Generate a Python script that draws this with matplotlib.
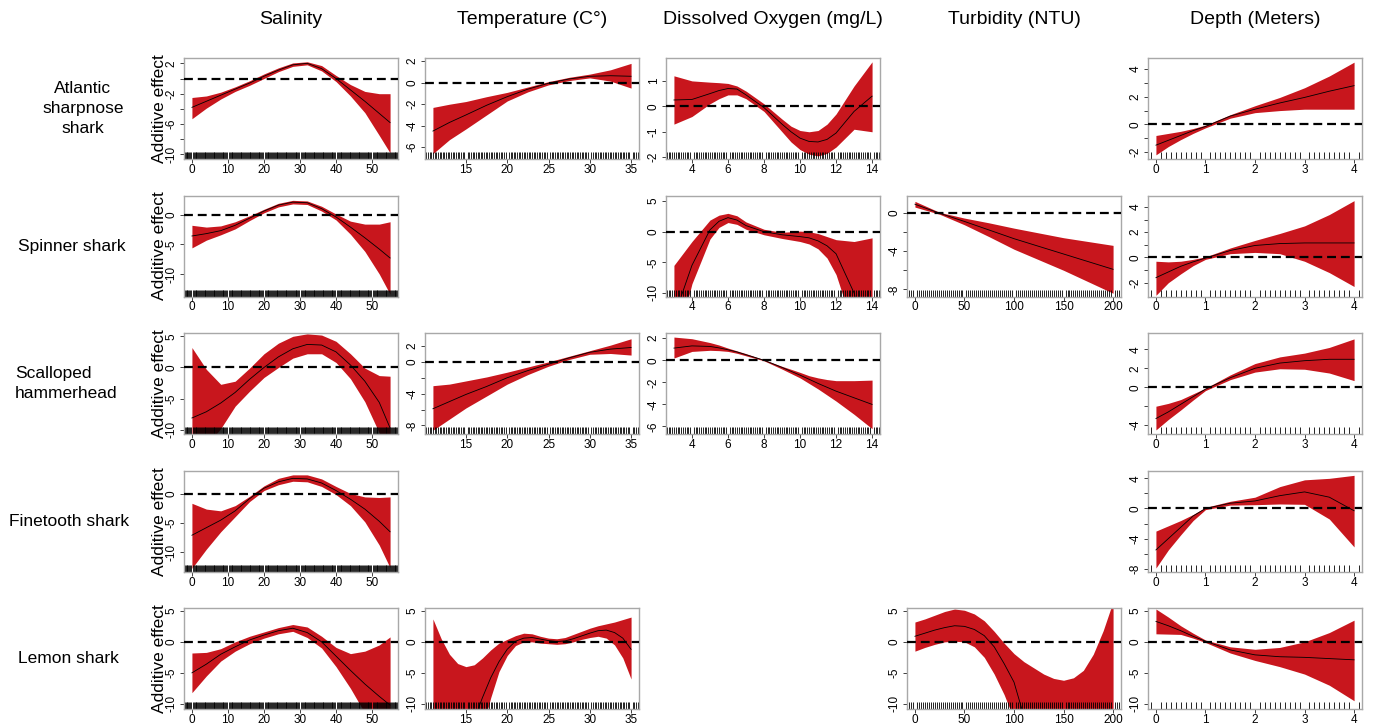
import matplotlib
matplotlib.use("Agg")
import matplotlib.pyplot as plt
from matplotlib.ticker import MultipleLocator

plt.rcParams['font.family'] = ['Liberation Sans', 'DejaVu Sans']

# ---------------- data ----------------
col_titles = ['Salinity', 'Temperature (C°)', 'Dissolved Oxygen (mg/L)',
              'Turbidity (NTU)', 'Depth (Meters)']
row_titles = ['Atlantic\nsharpnose\nshark', 'Spinner shark', 'Scalloped\nhammerhead',
              'Finetooth shark', 'Lemon shark']

# salinity
sal_x = [0, 4, 8, 12, 16, 20, 24, 28, 32, 36, 40, 44, 48, 52, 55]
atl_sal_fit = [-3.8, -3.0, -2.2, -1.4, -0.6, 0.3, 1.1, 1.8, 2.0, 1.3, 0.0, -1.5, -3.0, -4.6, -5.8]
atl_sal_up = [-2.5, -2.3, -1.8, -1.1, -0.3, 0.6, 1.4, 2.05, 2.2, 1.7, 0.4, -0.8, -1.7, -2.0, -2.0]
atl_sal_lo = [-5.3, -3.9, -2.7, -1.7, -0.9, 0.0, 0.9, 1.6, 1.8, 1.0, -0.4, -2.3, -4.5, -7.5, -9.8]

spn_sal_fit = [-3.6, -3.2, -2.7, -1.8, -0.6, 0.6, 1.6, 2.1, 2.0, 1.0, -0.4, -2.1, -3.9, -5.8, -7.3]
spn_sal_up = [-1.8, -2.1, -1.9, -1.2, -0.2, 0.9, 1.9, 2.4, 2.3, 1.4, 0.1, -1.1, -1.6, -1.6, -1.2]
spn_sal_lo = [-5.6, -4.3, -3.4, -2.4, -1.0, 0.3, 1.3, 1.8, 1.7, 0.6, -0.9, -3.3, -6.2, -10.0, -13.4]

sca_sal_fit = [-8.1, -7.1, -5.7, -4.0, -1.9, 0.0, 1.7, 3.0, 3.7, 3.6, 2.5, 0.4, -2.2, -5.6, -9.7]
sca_sal_up = [3.2, -0.3, -2.7, -2.2, -0.1, 2.2, 3.9, 5.0, 5.4, 5.2, 4.2, 2.2, -0.1, -1.3, -1.4]
sca_sal_lo = [-14.0, -12.5, -9.8, -6.2, -3.8, -1.6, 0.0, 1.5, 2.2, 2.2, 0.8, -1.8, -5.5, -10.5, -17.0]

fin_sal_fit = [-7.1, -5.8, -4.5, -2.9, -0.8, 1.0, 2.1, 2.7, 2.6, 1.9, 0.6, -0.9, -2.6, -4.7, -6.5]
fin_sal_up = [-1.6, -2.6, -2.9, -2.0, -0.4, 1.4, 2.7, 3.3, 3.3, 2.6, 1.3, 0.1, -0.5, -0.6, -0.5]
fin_sal_lo = [-12.8, -9.5, -6.5, -3.9, -1.3, 0.6, 1.6, 2.2, 2.1, 1.3, -0.1, -2.0, -4.8, -8.8, -12.7]

lem_sal_fit = [-5.0, -3.6, -2.0, -0.8, 0.3, 1.1, 1.8, 2.2, 1.5, 0.0, -2.3, -4.6, -6.8, -8.8, -10.2]
lem_sal_up = [-1.8, -1.7, -1.1, 0.0, 0.9, 1.6, 2.3, 2.8, 2.4, 0.9, -0.9, -1.9, -1.5, -0.5, 0.8]
lem_sal_lo = [-8.2, -5.5, -3.1, -1.5, -0.3, 0.6, 1.3, 1.7, 0.7, -1.0, -4.0, -7.5, -11.5, -15.0, -18.0]

# temperature
tmp_x = [11, 13, 15, 17.5, 20, 22.5, 25, 27.5, 30, 32.5, 35]
atl_tmp_fit = [-4.5, -3.7, -3.0, -2.1, -1.3, -0.6, -0.05, 0.35, 0.6, 0.65, 0.6]
atl_tmp_up = [-2.3, -2.0, -1.75, -1.3, -0.9, -0.4, 0.1, 0.5, 0.8, 1.2, 1.8]
atl_tmp_lo = [-6.6, -5.3, -4.3, -3.0, -1.7, -0.85, -0.2, 0.2, 0.45, 0.15, -0.5]

sca_tmp_fit = [-5.9, -5.0, -4.1, -3.1, -2.0, -1.1, -0.3, 0.5, 1.2, 1.6, 1.8]
sca_tmp_up = [-3.0, -2.8, -2.4, -1.9, -1.3, -0.65, 0.0, 0.7, 1.4, 2.1, 2.9]
sca_tmp_lo = [-8.6, -7.2, -5.8, -4.3, -2.8, -1.6, -0.55, 0.3, 0.95, 1.05, 0.85]

lem_tmp_x = [11, 12, 13, 14, 15, 16, 17, 18, 19, 20, 21, 22, 23, 24, 25, 26, 27, 28, 29, 30,
             31, 32, 33, 34, 35]
lem_tmp_fit = [-30, -26, -22, -18.5, -15.5, -12.5, -9.0, -5.8, -3.2, -1.2, 0.1, 0.6, 0.7, 0.45,
               0.2, 0.05, 0.15, 0.5, 0.95, 1.4, 1.8, 1.9, 1.5, 0.6, -1.2]
lem_tmp_up = [3.7, 0.5, -2.0, -3.5, -4.0, -3.7, -2.6, -1.3, -0.2, 0.4, 1.0, 1.4, 1.3, 0.9,
              0.6, 0.5, 0.7, 1.2, 1.7, 2.2, 2.6, 2.9, 3.2, 3.6, 4.0]
lem_tmp_lo = [-45, -40, -35, -30, -25, -19, -14, -9.0, -4.8, -2.2, -0.6, 0.0, 0.0, -0.2,
              -0.3, -0.4, -0.3, 0.0, 0.4, 0.7, 0.9, 0.6, -0.5, -2.6, -6.0]

# dissolved oxygen
do_x = [3, 4, 5, 5.5, 6, 6.5, 7, 8, 9, 9.5, 10, 10.5, 11, 11.5, 12, 13, 14]
atl_do_fit = [0.25, 0.27, 0.5, 0.62, 0.7, 0.68, 0.45, -0.05, -0.7, -1.0, -1.25, -1.38, -1.4,
              -1.3, -1.05, -0.2, 0.4]
atl_do_up = [1.2, 1.0, 0.95, 0.93, 0.9, 0.8, 0.6, 0.1, -0.5, -0.78, -0.95, -1.0, -0.95,
             -0.7, -0.3, 0.8, 1.75]
atl_do_lo = [-0.7, -0.4, 0.1, 0.3, 0.45, 0.45, 0.3, -0.2, -1.0, -1.4, -1.7, -1.88, -1.95,
             -1.85, -1.6, -0.9, -1.0]

spn_do_fit = [-14, -5.5, 0.3, 1.7, 2.3, 1.9, 1.0, 0.0, -0.5, -0.65, -0.8, -1.0, -1.5, -2.3,
              -3.6, -10.0, -22]
spn_do_up = [-5.5, -1.6, 1.9, 2.7, 3.0, 2.6, 1.6, 0.4, -0.1, 0.0, 0.1, 0.0, -0.3, -0.8,
             -1.3, -1.6, -1.0]
spn_do_lo = [-20, -8.5, -1.2, 0.7, 1.5, 1.2, 0.4, -0.5, -1.1, -1.35, -1.6, -2.0, -2.8, -4.3,
             -7.0, -16, -25]

sca_do_fit = [1.1, 1.3, 1.25, 1.12, 0.95, 0.75, 0.5, 0.0, -0.65, -1.0, -1.35, -1.72, -2.1,
              -2.45, -2.8, -3.4, -4.0]
sca_do_up = [2.1, 1.95, 1.6, 1.38, 1.1, 0.85, 0.6, 0.05, -0.55, -0.82, -1.1, -1.4, -1.6,
             -1.75, -1.85, -1.85, -1.8]
sca_do_lo = [0.2, 0.8, 0.9, 0.87, 0.8, 0.63, 0.4, -0.05, -0.8, -1.2, -1.6, -2.1, -2.6,
             -3.15, -3.7, -4.9, -6.2]

# turbidity
tur_x = [0, 25, 50, 75, 100, 125, 150, 175, 200]
spn_tur_fit = [0.9, -0.05, -0.9, -1.8, -2.7, -3.5, -4.3, -5.1, -5.9]
spn_tur_up = [1.2, 0.05, -0.55, -1.05, -1.6, -2.1, -2.6, -3.0, -3.4]
spn_tur_lo = [0.6, -0.15, -1.25, -2.5, -3.8, -4.9, -6.0, -7.2, -8.4]

lem_tur_x = [0, 10, 20, 30, 40, 50, 60, 70, 80, 90, 100, 110, 120, 130, 140, 150, 160, 170,
             180, 190, 200]
lem_tur_fit = [0.9, 1.4, 1.9, 2.3, 2.6, 2.5, 2.0, 1.0, -0.8, -3.5, -6.5, -12, -16, -20, -23,
               -25, -26, -26, -25, -23, -20]
lem_tur_up = [3.2, 3.7, 4.3, 4.9, 5.3, 5.1, 4.5, 3.4, 1.7, -0.2, -1.9, -3.2, -4.2, -5.2, -5.9,
              -6.2, -5.8, -4.6, -2.0, 1.8, 6.5]
lem_tur_lo = [-1.5, -0.9, -0.4, 0.0, 0.1, 0.0, -0.8, -2.5, -5.2, -8.5, -12.5, -18, -24, -30,
              -35, -40, -45, -50, -55, -60, -65]

# depth
dep_x = [0, 0.25, 0.5, 0.75, 1, 1.5, 2, 2.5, 3, 3.5, 4]
atl_dep_fit = [-1.5, -1.15, -0.8, -0.45, -0.15, 0.6, 1.1, 1.55, 1.95, 2.4, 2.8]
atl_dep_up = [-0.8, -0.65, -0.5, -0.3, -0.05, 0.7, 1.35, 1.95, 2.65, 3.5, 4.5]
atl_dep_lo = [-2.2, -1.6, -1.1, -0.65, -0.25, 0.45, 0.85, 1.0, 1.1, 1.1, 1.1]

spn_dep_fit = [-1.6, -1.15, -0.7, -0.35, -0.05, 0.55, 0.95, 1.1, 1.15, 1.15, 1.15]
spn_dep_up = [-0.3, -0.35, -0.3, -0.15, 0.05, 0.75, 1.35, 1.9, 2.5, 3.4, 4.5]
spn_dep_lo = [-3.0, -2.0, -1.3, -0.65, -0.15, 0.3, 0.4, 0.3, -0.3, -1.2, -2.3]

sca_dep_fit = [-3.3, -2.6, -1.8, -1.0, -0.2, 1.0, 2.0, 2.55, 2.8, 2.95, 2.95]
sca_dep_up = [-2.0, -1.7, -1.3, -0.7, -0.1, 1.3, 2.5, 3.2, 3.6, 4.2, 5.1]
sca_dep_lo = [-4.5, -3.4, -2.4, -1.35, -0.35, 0.8, 1.6, 1.95, 1.9, 1.5, 0.7]

fin_dep_fit = [-5.5, -4.0, -2.5, -1.0, 0.0, 0.7, 1.0, 1.7, 2.2, 1.5, -0.3]
fin_dep_up = [-3.0, -2.3, -1.6, -0.8, 0.15, 0.95, 1.5, 2.9, 3.8, 4.0, 4.4]
fin_dep_lo = [-7.9, -5.5, -3.5, -1.6, -0.15, 0.45, 0.5, 0.6, 0.55, -1.4, -5.1]

lem_dep_fit = [3.3, 2.6, 1.8, 0.9, 0.1, -1.3, -2.1, -2.4, -2.5, -2.7, -2.9]
lem_dep_up = [5.3, 4.0, 2.6, 1.4, 0.3, -0.8, -1.2, -0.9, 0.0, 1.5, 3.5]
lem_dep_lo = [1.3, 1.25, 1.2, 0.6, -0.1, -1.8, -3.0, -4.0, -5.2, -7.0, -9.5]

# ---------------- per-column axis settings ----------------
col_xlim = [(-2.2, 57.2), (10.04, 35.96), (2.56, 14.44), (-8, 208), (-0.16, 4.16)]
col_xticks = [[0, 10, 20, 30, 40, 50], [15, 20, 25, 30, 35], [4, 6, 8, 10, 12, 14],
              [0, 50, 100, 150, 200], [0, 1, 2, 3, 4]]
col_rug = [0.25, 0.2, 0.1, 2.0, 0.1]

# (row, col, x, fit, upper, lower, ylim, all y ticks, labelled y ticks)
panels = [
    (0, 0, sal_x, atl_sal_fit, atl_sal_up, atl_sal_lo, (-10.6, 2.7), [-10, -8, -6, -4, -2, 0, 2], [-10, -6, -2, 2]),
    (0, 1, tmp_x, atl_tmp_fit, atl_tmp_up, atl_tmp_lo, (-7.1, 2.3), [-6, -4, -2, 0, 2], [-6, -4, -2, 0, 2]),
    (0, 2, do_x, atl_do_fit, atl_do_up, atl_do_lo, (-2.07, 1.9), [-2, -1, 0, 1], [-2, -1, 0, 1]),
    (0, 4, dep_x, atl_dep_fit, atl_dep_up, atl_dep_lo, (-2.5, 4.8), [-2, -1, 0, 1, 2, 3, 4], [-2, 0, 2, 4]),
    (1, 0, sal_x, spn_sal_fit, spn_sal_up, spn_sal_lo, (-13.8, 3.2), [-10, -5, 0], [-10, -5, 0]),
    (1, 2, do_x, spn_do_fit, spn_do_up, spn_do_lo, (-10.6, 5.9), [-10, -5, 0, 5], [-10, -5, 0, 5]),
    (1, 3, tur_x, spn_tur_fit, spn_tur_up, spn_tur_lo, (-8.75, 1.8), [-8, -6, -4, -2, 0], [-8, -4, 0]),
    (1, 4, dep_x, spn_dep_fit, spn_dep_up, spn_dep_lo, (-3.1, 4.9), [-2, -1, 0, 1, 2, 3, 4], [-2, 0, 2, 4]),
    (2, 0, sal_x, sca_sal_fit, sca_sal_up, sca_sal_lo, (-10.7, 5.5), [-10, -5, 0, 5], [-10, -5, 0, 5]),
    (2, 1, tmp_x, sca_tmp_fit, sca_tmp_up, sca_tmp_lo, (-9.1, 3.6), [-8, -6, -4, -2, 0, 2], [-8, -4, 0, 2]),
    (2, 2, do_x, sca_do_fit, sca_do_up, sca_do_lo, (-6.7, 2.45), [-6, -4, -2, 0, 2], [-6, -4, -2, 0, 2]),
    (2, 4, dep_x, sca_dep_fit, sca_dep_up, sca_dep_lo, (-4.95, 5.7), [-4, -2, 0, 2, 4], [-4, 0, 2, 4]),
    (3, 0, sal_x, fin_sal_fit, fin_sal_up, fin_sal_lo, (-13.4, 4.0), [-10, -5, 0], [-10, -5, 0]),
    (3, 4, dep_x, fin_dep_fit, fin_dep_up, fin_dep_lo, (-8.4, 5.0), [-8, -6, -4, -2, 0, 2, 4], [-8, -4, 0, 4]),
    (4, 0, sal_x, lem_sal_fit, lem_sal_up, lem_sal_lo, (-10.9, 5.4), [-10, -5, 0, 5], [-10, -5, 0, 5]),
    (4, 1, lem_tmp_x, lem_tmp_fit, lem_tmp_up, lem_tmp_lo, (-10.9, 5.4), [-10, -5, 0, 5], [-10, -5, 0, 5]),
    (4, 3, lem_tur_x, lem_tur_fit, lem_tur_up, lem_tur_lo, (-10.9, 5.4), [-10, -5, 0, 5], [-10, -5, 0, 5]),
    (4, 4, dep_x, lem_dep_fit, lem_dep_up, lem_dep_lo, (-10.9, 5.4), [-10, -5, 0, 5], [-10, -5, 0, 5]),
]

RED = '#c8161d'
W, H = 1379, 727
fig = plt.figure(figsize=(W / 100, H / 100), dpi=100)

# layout in pixels
left0, col_step, pw = 184, 241, 214
top0, row_step, ph = 58, 137.6, 101

for (r, c, x, fit, up, lo, ylim, yt, ylab) in panels:
    left = left0 + col_step * c
    top = top0 + row_step * r
    ax = fig.add_axes([left / W, 1 - (top + ph) / H, pw / W, ph / H])
    ax.fill_between(x, lo, up, color=RED, lw=0, zorder=1)
    ax.plot(x, fit, color='black', lw=0.6, zorder=2)
    ax.axhline(0, color='black', lw=1.6, ls=(0, (4, 2.2)), zorder=3)
    ax.set_xlim(col_xlim[c])
    ax.set_ylim(ylim)
    ax.set_xticks(col_xticks[c])
    ax.xaxis.set_minor_locator(MultipleLocator(col_rug[c]))
    ax.set_yticks(yt)
    ax.set_yticklabels([str(v) if v in ylab else '' for v in yt])
    ax.tick_params(axis='y', labelsize=8.5, labelrotation=90, length=3, width=0.7,
                   color='#404040', pad=1.5)
    ax.tick_params(axis='x', which='major', labelsize=8.5, length=3, width=0.7,
                   color='#404040', pad=0.5)
    ax.tick_params(axis='x', which='minor', direction='in', length=5, width=0.6,
                   color='black')
    for lab in ax.get_yticklabels():
        lab.set_va('center')
    for sp in ax.spines.values():
        sp.set_color('#a8a8a8')
        sp.set_linewidth(1.0)

# column titles
for c, t in enumerate(col_titles):
    xc = left0 + col_step * c + pw / 2
    fig.text(xc / W, 1 - 20 / H, t, ha='center', va='center', fontsize=14)

# row titles and y label
row_lx = [83, 18, 15, 9, 18]
for r, t in enumerate(row_titles):
    yc = top0 + row_step * r + ph / 2
    if r == 0:
        fig.text(row_lx[r] / W, 1 - yc / H, t, ha='center', va='center', fontsize=12.5,
                 linespacing=1.4)
    else:
        fig.text(row_lx[r] / W, 1 - yc / H, t, ha='left', va='center', fontsize=12.5,
                 linespacing=1.4)
    fig.text(160 / W, 1 - yc / H, 'Additive effect', rotation=90, ha='center',
             va='center', fontsize=12.5)

fig.savefig('out.png', dpi=100)
